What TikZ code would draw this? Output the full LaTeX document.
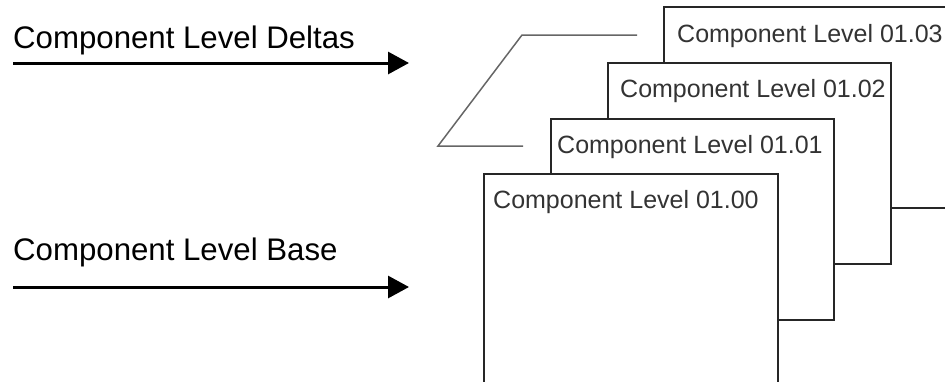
\documentclass[tikz,border=0pt]{standalone}
\usepackage{fontspec}
\setmainfont{Liberation Sans}
\usetikzlibrary{arrows.meta}
\begin{document}
\begin{tikzpicture}[x=1pt,y=-1pt,
  sheet/.style={draw=black!85, line width=1.6pt, fill=white, anchor=north west,
    minimum height=201pt, inner sep=0pt, outer sep=0pt},
  sheettext/.style={anchor=base west, inner sep=0pt, font=\fontsize{25}{29}\selectfont, text=black!80},
  sidelabel/.style={anchor=base west, inner sep=0pt, font=\fontsize{31.2}{36}\selectfont},
  feed/.style={line width=3pt, -{Triangle[length=21pt,width=22pt]}},
  bracket/.style={draw=black!60, line width=1.5pt}]
\useasboundingbox (0,0) rectangle (945,381);
\clip (0,0) rectangle (945,381);

% side labels with their arrows
\node[sidelabel] (deltas) at (13,48) {Component Level Deltas};
\coordinate (dstart) at (13,63);
\coordinate (dend) at (409,63);
\draw[feed] (dstart) -- (dend);

\node[sidelabel] (base) at (13,260) {Component Level Base};
\coordinate (bstart) at (13,287);
\coordinate (bend) at (409,287);
\draw[feed] (bstart) -- (bend);

% bracket grouping the delta levels
\coordinate (k1) at (637,35);
\coordinate (k2) at (522,35);
\coordinate (k3) at (438,146);
\coordinate (k4) at (523,146);
\draw[bracket] (k1) -- (k2) -- (k3) -- (k4);

% stacked sheets, back to front
\node[sheet, minimum width=283pt] (s3) at (664,7) {};
\node[sheettext] (t3) at (677,42) {Component Level 01.03};

\node[sheet, minimum width=283pt] (s2) at (608,63) {};
\node[sheettext] (t2) at (620,97) {Component Level 01.02};

\node[sheet, minimum width=283pt] (s1) at (551,119) {};
\node[sheettext] (t1) at (557,153) {Component Level 01.01};

\node[sheet, minimum width=294pt, minimum height=240pt] (s0) at (484,174) {};
\node[sheettext] (t0) at (493,208) {Component Level 01.00};
\end{tikzpicture}
\end{document}
